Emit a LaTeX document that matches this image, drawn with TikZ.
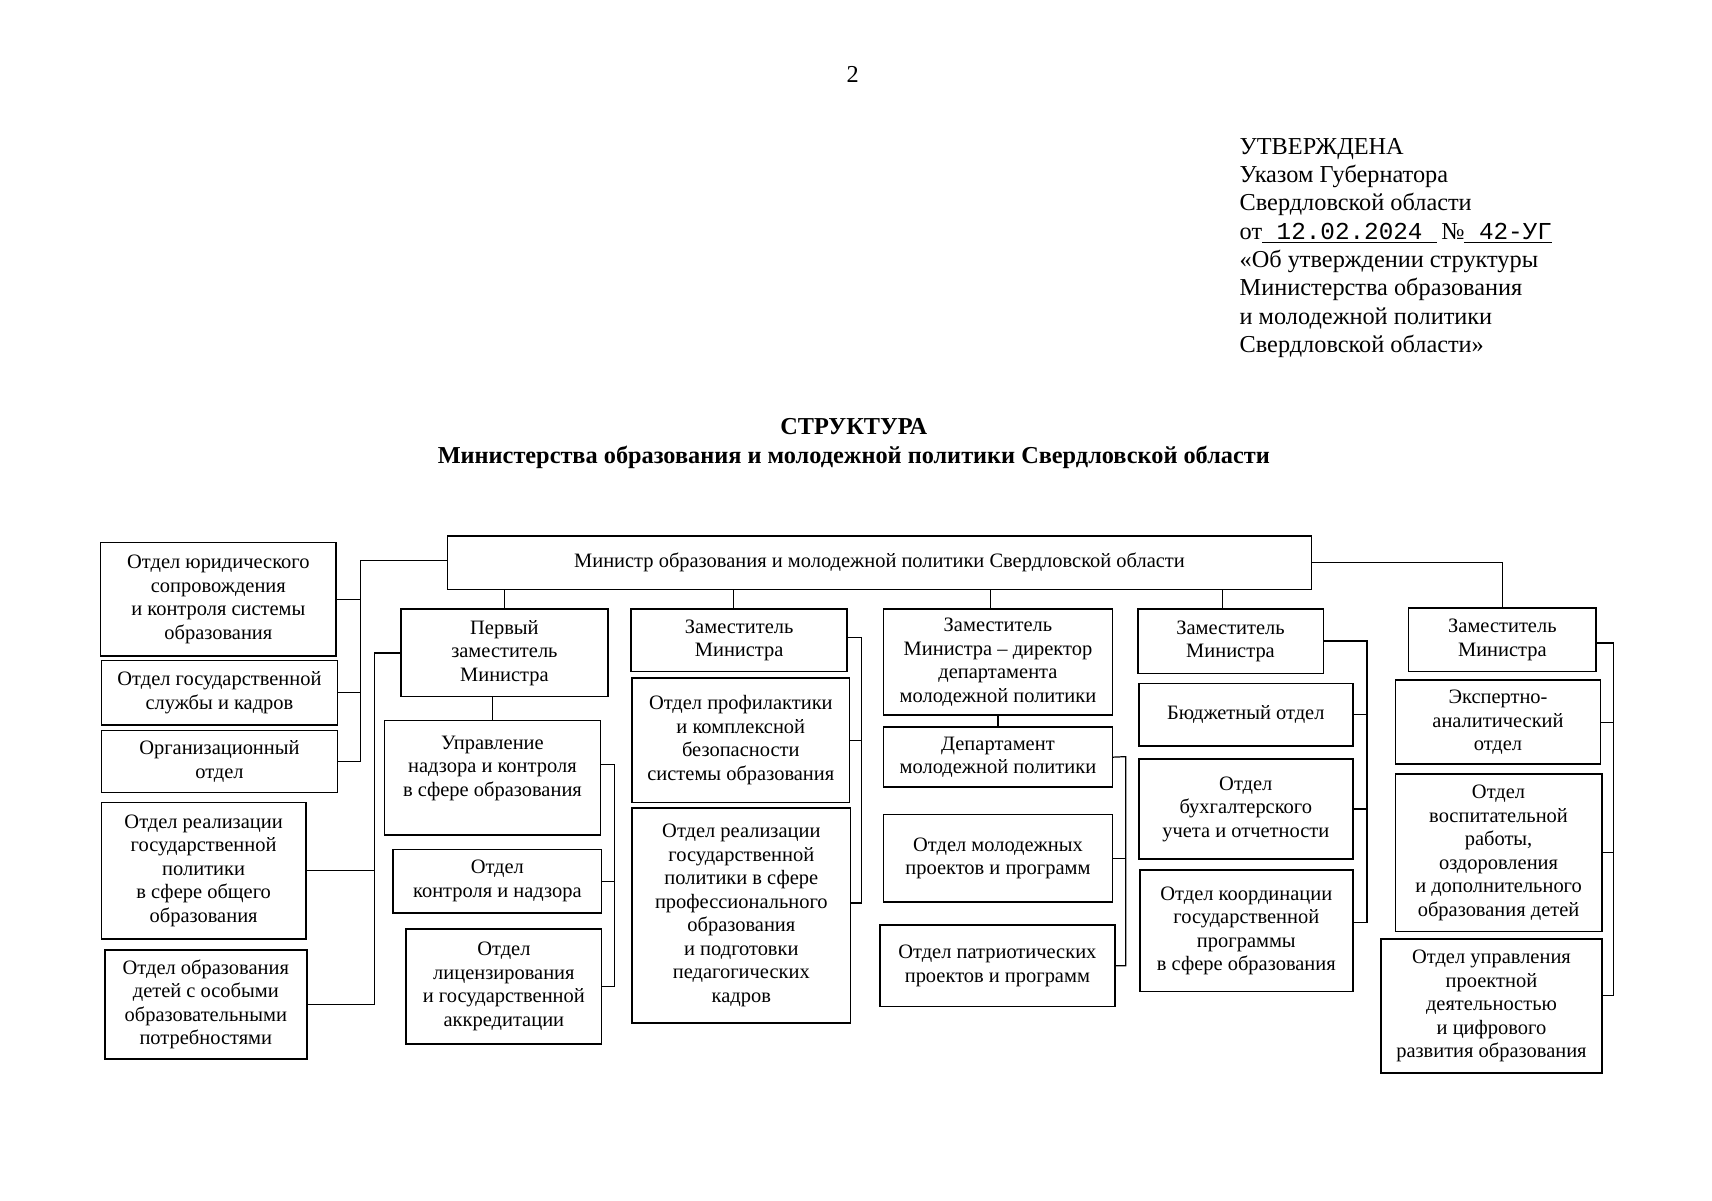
\documentclass[tikz,border=0pt]{standalone}
\usepackage{fontspec}
\setmainfont{Liberation Serif}
\newfontfamily\monofont{Liberation Mono}
\def\du{0.18941mm}
% box from its corners (x1,y1) -- (x2,y2), y counted downwards
\newcommand\orgbox[7][]{\node[unit,#1,minimum width={(#5-#3)*\du},minimum height={(#6-#4)*\du}] (#2) at ({(#3+#5)/2},{-(#4+#6)/2}) {#7};}

\begin{document}
\begin{tikzpicture}[x=\du,y=\du,
	unit/.style={draw, line width=0.8pt, align=center, inner sep=1.5pt, outer sep=0pt,
		font=\fontsize{10.1}{11.6}\selectfont},
	link/.style={line width=0.6pt}]
			%%%%% START %%%%%
			\useasboundingbox (0,0) rectangle (1568,-1099.1);
			
			\node[font=\fontsize{12}{14}\selectfont] (pagenum) at (781,-68) {2};
			
			\node[anchor=north west, align=left, inner sep=0pt, font=\fontsize{12}{14}\selectfont] (approved) at (1135,-126)
				{УТВЕРЖДЕНА\\
				Указом Губернатора\\
				Свердловской области\\
				от\underline{{\monofont\ 12.02.2024\ }}\,№\underline{{\monofont\ 42-УГ}}\\
				«Об утверждении структуры\\
				Министерства образования\\
				и молодежной политики\\
				Свердловской области»};
			
			\node[anchor=north, align=center, inner sep=0pt, font=\fontsize{12}{14}\bfseries\selectfont] (title) at (782,-383)
				{СТРУКТУРА\\
				Министерства образования и молодежной политики Свердловской области};
			
			% minister and staff departments
			\orgbox{min}{410}{491}{1201}{540}{Министр образования и молодежной политики Свердловской области}
			\orgbox{l1}{92}{497}{308}{601}{Отдел юридического\\сопровождения\\и контроля системы\\образования}
			\orgbox{l2}{93}{605}{309}{664}{Отдел государственной\\службы и кадров}
			\orgbox{l3}{93}{669}{309}{726}{Организационный\\отдел}
			\orgbox{l4}{93}{735}{280}{860}{Отдел реализации\\государственной\\политики\\в сфере общего\\образования}
			\orgbox{l5}{96}{870}{281}{970}{Отдел образования\\детей с особыми\\образовательными\\потребностями}
			
			% first deputy
			\orgbox{f0}{367}{558}{557}{638}{Первый\\заместитель\\Министра}
			\orgbox{f1}{352}{660}{550}{765}{Управление\\надзора и контроля\\в сфере образования\\\mbox{}}
			\orgbox{f2}{360}{778}{551}{836}{Отдел\\контроля и надзора}
			\orgbox{f3}{372}{851}{551}{956}{Отдел\\лицензирования\\и государственной\\аккредитации}
			
			% deputy
			\orgbox{d2}{578}{558}{776}{615}{Заместитель\\Министра}
			\orgbox{d2a}{579}{621}{778}{735}{Отдел профилактики\\и комплексной\\безопасности\\системы образования}
			\orgbox{d2b}{579}{740}{779}{937}{Отдел реализации\\государственной\\политики в сфере\\профессионального\\образования\\и подготовки\\педагогических\\кадров}
			
			% deputy - director of youth department
			\orgbox{d3}{809}{558}{1019}{655}{Заместитель\\Министра – директор\\департамента\\молодежной политики}
			\orgbox{d3a}{809}{666}{1019}{721}{Департамент\\молодежной политики}
			\orgbox{d3b}{809}{746}{1019}{826}{Отдел молодежных\\проектов и программ}
			\orgbox{d3c}{806}{847}{1021}{922}{Отдел патриотических\\проектов и программ}
			
			% deputy
			\orgbox{d4}{1042}{558}{1212}{617}{Заместитель\\Министра}
			\orgbox{d4a}{1043}{626}{1239}{683}{Бюджетный отдел}
			\orgbox{d4b}{1043}{695}{1239}{787}{Отдел\\бухгалтерского\\учета и отчетности}
			\orgbox{d4c}{1044}{797}{1239}{908}{Отдел координации\\государственной\\программы\\в сфере образования}
			
			% deputy
			\orgbox{d5}{1290}{557}{1462}{615}{Заместитель\\Министра}
			\orgbox{d5a}{1278}{623}{1466}{700}{Экспертно-\\аналитический\\отдел}
			\orgbox{d5b}{1278}{709}{1467}{853}{Отдел\\воспитательной\\работы,\\оздоровления\\и дополнительного\\образования детей}
			\orgbox{d5c}{1265}{860}{1467}{983}{Отдел управления\\проектной\\деятельностью\\и цифрового\\развития образования}
			
			% bus lines
			\coordinate (busL) at (330,-513);
			\coordinate (busF) at (343,-598);
			\coordinate (busF1) at (563,-700);
			\coordinate (busD2) at (789,-584);
			\coordinate (endD2) at (789,-827);
			\coordinate (busD3) at (1031,-693);
			\coordinate (busD4) at (1252,-587);
			\coordinate (endD4) at (1252,-845);
			\coordinate (busD5) at (1478,-589);
			\coordinate (endD5) at (1478,-912);
			
			\draw[link] (min.west |- busL) -- (busL) -- (busL |- l3.east) -- (l3.east);
			\draw[link] (l1.east) -- (l1.east -| busL);
			\draw[link] (l2.east) -- (l2.east -| busL);
			
			\draw[link] (f0.north) -- (f0.north |- min.south);
			\draw[link] ([xshift=-5*\du]d2.north) -- ([xshift=-5*\du]d2.north |- min.south);
			\draw[link] ([xshift=-7*\du]d3.north) -- ([xshift=-7*\du]d3.north |- min.south);
			\draw[link] ([xshift=-7*\du]d4.north) -- ([xshift=-7*\du]d4.north |- min.south);
			\draw[link] (min.east) -| (d5.north);
			
			\draw[link] (f0.west) -- (busF) -- (busF |- l5.east) -- (l5.east);
			\draw[link] (l4.east) -- (l4.east -| busF);
			\draw[link] (f1.north) -- (f1.north |- f0.south);
			\draw[link] (f1.east |- busF1) -- (busF1) -- (busF1 |- f3.east) -- (f3.east);
			\draw[link] (f2.east) -- (f2.east -| busF1);
			
			\draw[link] (d2.east |- busD2) -- (busD2) -- (endD2) -- (endD2 -| d2b.east);
			\draw[link] (d2a.east) -- (d2a.east -| busD2);
			
			\draw[link] (d3.south -| d3a.north) -- (d3a.north);
			\draw[link] (d3a.east) -- (busD3) -- (busD3 |- d3c.east) -- (d3c.east);
			\draw[link] (d3b.east) -- (d3b.east -| busD3);
			
			\draw[link] (d4.east |- busD4) -- (busD4) -- (endD4) -- (endD4 -| d4c.east);
			\draw[link] (d4a.east) -- (d4a.east -| busD4);
			\draw[link] (d4b.east) -- (d4b.east -| busD4);
			
			\draw[link] (d5.east |- busD5) -- (busD5) -- (endD5) -- (endD5 -| d5c.east);
			\draw[link] (d5a.east) -- (d5a.east -| busD5);
			\draw[link] (d5b.east) -- (d5b.east -| busD5);
			%%%%% END %%%%%
\end{tikzpicture}
\end{document}
